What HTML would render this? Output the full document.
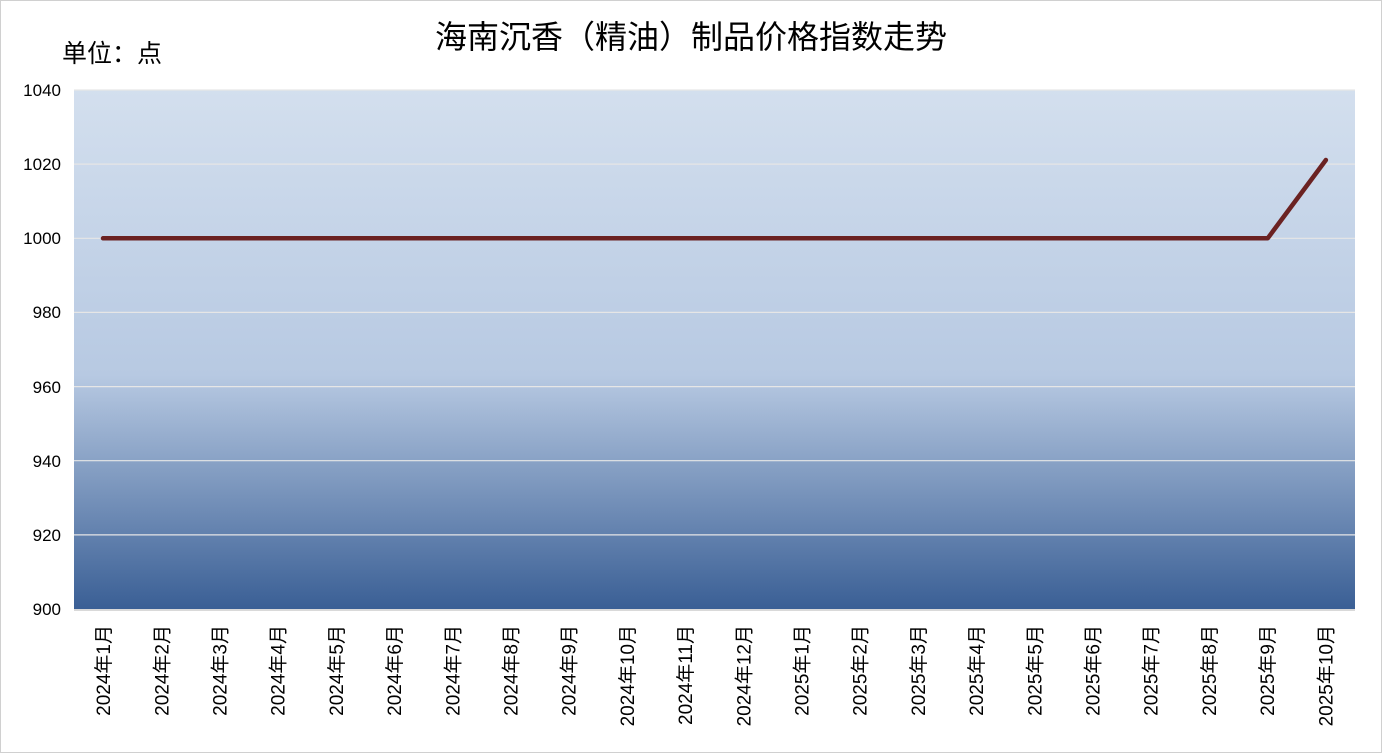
<!DOCTYPE html>
<html><head><meta charset="utf-8"><style>
body{margin:0;background:#fff;}
svg{display:block;font-family:"Liberation Sans","Noto Sans CJK SC",sans-serif;}
</style></head><body>
<svg width="1382" height="753" xmlns="http://www.w3.org/2000/svg">
<defs>
<linearGradient id="g" x1="0" y1="0" x2="0" y2="1">
<stop offset="0" stop-color="#d3dfee"/>
<stop offset="0.55" stop-color="#b7c9e2"/>
<stop offset="1" stop-color="#3a5f95"/>
</linearGradient>
</defs>
<rect x="0.5" y="0.5" width="1381" height="752" fill="#fff" stroke="#d0d0d0"/>
<text x="691" y="48" font-size="32" text-anchor="middle" fill="#000">海南沉香（精油）制品价格指数走势</text>
<text x="62" y="62" font-size="25" fill="#000">单位：点</text>
<rect x="74" y="90" width="1281" height="519" fill="url(#g)"/>
<g stroke="#e6e6e6" stroke-width="1.2">
<line x1="74" y1="90" x2="1355" y2="90"/>
<line x1="74" y1="164.1" x2="1355" y2="164.1"/>
<line x1="74" y1="238.3" x2="1355" y2="238.3"/>
<line x1="74" y1="312.4" x2="1355" y2="312.4"/>
<line x1="74" y1="386.6" x2="1355" y2="386.6"/>
<line x1="74" y1="460.7" x2="1355" y2="460.7"/>
<line x1="74" y1="534.9" x2="1355" y2="534.9"/>
</g>
<line x1="74" y1="610" x2="1355" y2="610" stroke="#d9d9d9" stroke-width="2"/>
<g font-size="17" text-anchor="end" fill="#000">
<text x="61" y="96">1040</text>
<text x="61" y="170">1020</text>
<text x="61" y="244">1000</text>
<text x="61" y="318">980</text>
<text x="61" y="393">960</text>
<text x="61" y="467">940</text>
<text x="61" y="541">920</text>
<text x="61" y="615">900</text>
</g>
<polyline fill="none" stroke="#6b2222" stroke-width="4.5" stroke-linejoin="round" stroke-linecap="round"
points="103,238.3 1267.7,238.3 1325.9,160"/>
<g font-size="19" text-anchor="end" fill="#000" transform="translate(1,0)">
<text transform="translate(109.1,625) rotate(-90)">2024年1月</text>
<text transform="translate(167.3,625) rotate(-90)">2024年2月</text>
<text transform="translate(225.5,625) rotate(-90)">2024年3月</text>
<text transform="translate(283.7,625) rotate(-90)">2024年4月</text>
<text transform="translate(341.9,625) rotate(-90)">2024年5月</text>
<text transform="translate(400.1,625) rotate(-90)">2024年6月</text>
<text transform="translate(458.3,625) rotate(-90)">2024年7月</text>
<text transform="translate(516.5,625) rotate(-90)">2024年8月</text>
<text transform="translate(574.7,625) rotate(-90)">2024年9月</text>
<text transform="translate(632.9,625) rotate(-90)">2024年10月</text>
<text transform="translate(691.1,625) rotate(-90)">2024年11月</text>
<text transform="translate(749.3,625) rotate(-90)">2024年12月</text>
<text transform="translate(807.5,625) rotate(-90)">2025年1月</text>
<text transform="translate(865.7,625) rotate(-90)">2025年2月</text>
<text transform="translate(923.9,625) rotate(-90)">2025年3月</text>
<text transform="translate(982.1,625) rotate(-90)">2025年4月</text>
<text transform="translate(1040.3,625) rotate(-90)">2025年5月</text>
<text transform="translate(1098.5,625) rotate(-90)">2025年6月</text>
<text transform="translate(1156.7,625) rotate(-90)">2025年7月</text>
<text transform="translate(1214.9,625) rotate(-90)">2025年8月</text>
<text transform="translate(1273.1,625) rotate(-90)">2025年9月</text>
<text transform="translate(1331.3,625) rotate(-90)">2025年10月</text>
</g>
</svg>
</body></html>
